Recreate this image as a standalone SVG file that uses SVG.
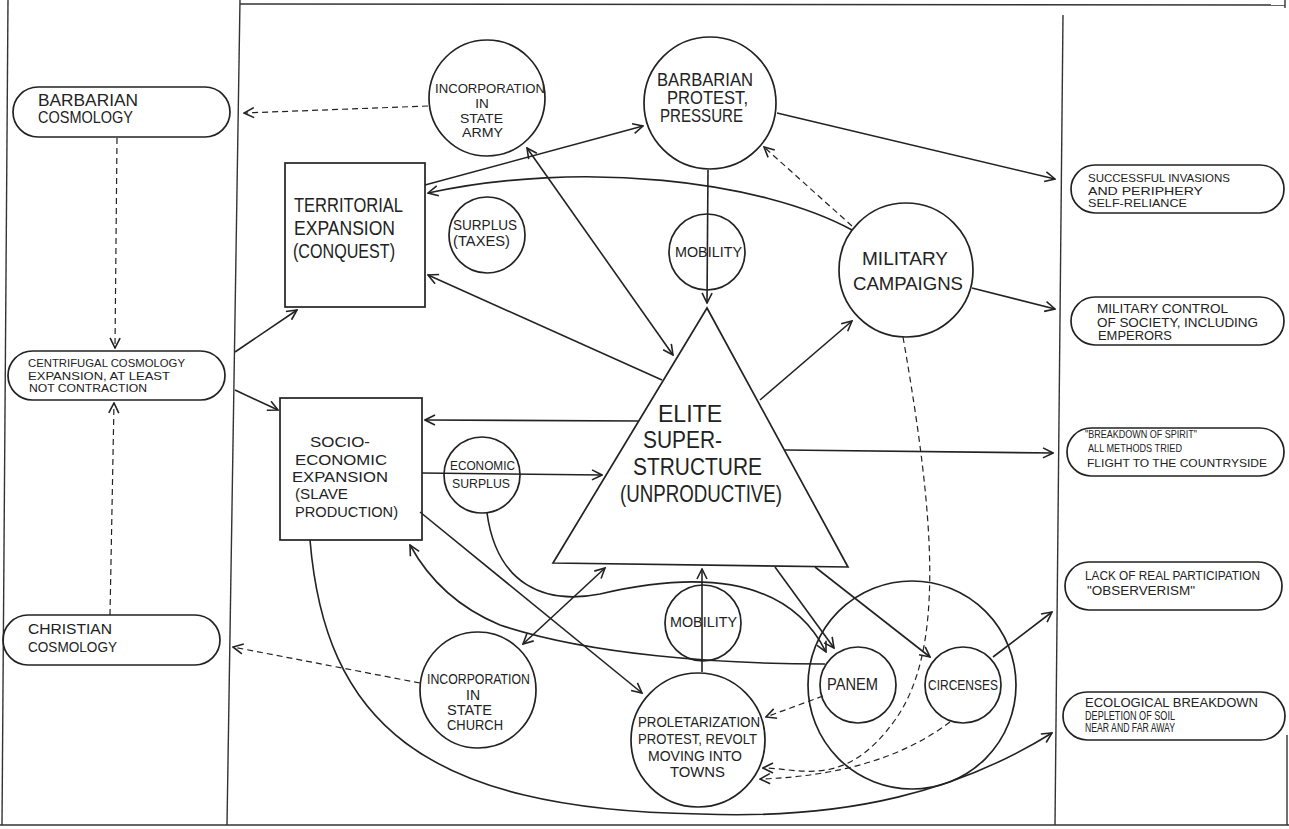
<svg xmlns="http://www.w3.org/2000/svg" width="1289" height="829" viewBox="0 0 1289 829">
<defs>
<marker id="ah" viewBox="0 0 12 12" refX="11" refY="6" markerWidth="12" markerHeight="12" markerUnits="userSpaceOnUse" orient="auto-start-reverse">
<path d="M1,1 L11,6 L1,11" fill="none" stroke="#222" stroke-width="1.6"/>
</marker>
<style>
.ln{fill:none;stroke:#222;stroke-width:1.6}
.ds{fill:none;stroke:#222;stroke-width:1.2;stroke-dasharray:6 4}
.nd{fill:none;stroke:#222;stroke-width:1.7}
.fr{fill:none;stroke:#333;stroke-width:1.4}
text{font-family:"Liberation Sans",Arial,sans-serif;fill:#222}
.a{marker-end:url(#ah)}
.b{marker-start:url(#ah);marker-end:url(#ah)}
</style>
</defs>
<rect x="0" y="0" width="1289" height="829" fill="#fff"/>
<g id="frame">
<line class="fr" x1="8" y1="0" x2="2" y2="825"/>
<line class="fr" x1="240" y1="0" x2="227" y2="825"/>
<line class="fr" x1="240" y1="4" x2="1285" y2="5"/>
<line class="fr" x1="1285" y1="0" x2="1285" y2="8"/>
<line class="fr" x1="1063" y1="15" x2="1055" y2="825"/>
<line class="fr" x1="1287" y1="735" x2="1287" y2="825"/>
<line class="fr" x1="0" y1="825" x2="1289" y2="825"/>
</g>
<g id="connectors">
<path class="ds a" d="M428,106 L244,113"/>
<path class="ds a" d="M117,138 L115,348"/>
<path class="ds a" d="M110,615 L114,403"/>
<path class="ln a" d="M235,352 L297,310"/>
<path class="ln a" d="M235,390 L278,410"/>
<path class="ds a" d="M420,683 L233,647"/>
<path class="ln a" d="M425,185 L643,126"/>
<path class="ln a" d="M852,230 C760,180 580,160 428,193"/>
<path class="ln b" d="M527,148 L673,355"/>
<path class="ln a" d="M662,380 L428,275"/>
<path class="ln a" d="M760,400 L852,321"/>
<path class="ln a" d="M972,288 L1055,309"/>
<path class="ln a" d="M777,113 L1055,179"/>
<path class="ds a" d="M852,226 L764,147"/>
<path class="ds a" d="M903,337 C935,520 945,650 895,720 S800,768 763,768"/>
<path class="ds a" d="M950,722 Q880,775 760,779"/>
<path class="ds a" d="M823,696 L766,717"/>
<path class="ln a" d="M702,672 L702,569"/>
<path class="ln a" d="M775,567 L834,648"/>
<path class="ln a" d="M815,567 L930,657"/>
<path class="ln a" d="M993,657 L1052,612"/>
<path class="ln a" d="M310,540 C325,720 420,810 700,814 C850,820 960,790 1052,733"/>
<path class="ln a" d="M422,473 L602,475"/>
<path class="ln a" d="M638,421 L425,420"/>
<path class="ln a" d="M785,450 L1053,453"/>
<path class="ln a" d="M487,513 C497,585 545,605 600,594 C660,580 780,560 826,652"/>
<path class="ln a" d="M825,664 C720,664 590,655 500,625 Q440,600 410,545"/>
<path class="ln a" d="M420,512 L642,693"/>
<path class="ln b" d="M605,568 L523,644"/>
<path class="ln a" d="M708,170 L707,303"/>
</g>
<g id="barbarian-cosmology">
<rect class="nd" x="13" y="87" width="217" height="50" rx="25"/>
<text x="38" y="106" font-size="17" textLength="100" lengthAdjust="spacingAndGlyphs">BARBARIAN</text>
<text x="38" y="123" font-size="17" textLength="95" lengthAdjust="spacingAndGlyphs">COSMOLOGY</text>
</g>
<g id="centrifugal-cosmology">
<rect class="nd" x="8" y="351" width="217" height="49" rx="24.5"/>
<text x="28" y="367" font-size="11.3" textLength="157" lengthAdjust="spacingAndGlyphs">CENTRIFUGAL COSMOLOGY</text>
<text x="28" y="380" font-size="11.3" textLength="142" lengthAdjust="spacingAndGlyphs">EXPANSION, AT LEAST</text>
<text x="29" y="392" font-size="11.3" textLength="118" lengthAdjust="spacingAndGlyphs">NOT CONTRACTION</text>
</g>
<g id="christian-cosmology">
<rect class="nd" x="3" y="615" width="217" height="50" rx="25"/>
<text x="28" y="634" font-size="15.5" textLength="84" lengthAdjust="spacingAndGlyphs">CHRISTIAN</text>
<text x="28" y="652" font-size="15.5" textLength="89" lengthAdjust="spacingAndGlyphs">COSMOLOGY</text>
</g>
<g id="territorial-expansion">
<rect class="nd" x="285" y="163" width="140" height="144"/>
<text x="294" y="212" font-size="20" textLength="109" lengthAdjust="spacingAndGlyphs">TERRITORIAL</text>
<text x="294" y="235" font-size="20" textLength="101" lengthAdjust="spacingAndGlyphs">EXPANSION</text>
<text x="293" y="258" font-size="20" textLength="102" lengthAdjust="spacingAndGlyphs">(CONQUEST)</text>
</g>
<g id="socio-economic-expansion">
<rect class="nd" x="280" y="398" width="142" height="142"/>
<text x="310" y="447" font-size="15" textLength="60" lengthAdjust="spacingAndGlyphs">SOCIO-</text>
<text x="295" y="465" font-size="15" textLength="92" lengthAdjust="spacingAndGlyphs">ECONOMIC</text>
<text x="292" y="482" font-size="15" textLength="96" lengthAdjust="spacingAndGlyphs">EXPANSION</text>
<text x="295" y="499" font-size="15" textLength="53" lengthAdjust="spacingAndGlyphs">(SLAVE</text>
<text x="295" y="517" font-size="15" textLength="103" lengthAdjust="spacingAndGlyphs">PRODUCTION)</text>
</g>
<g id="incorporation-state-army">
<circle class="nd" cx="487" cy="98" r="58"/>
<text x="435" y="93" font-size="13.5" textLength="110" lengthAdjust="spacingAndGlyphs">INCORPORATION</text>
<text x="482" y="108" font-size="13.5" text-anchor="middle">IN</text>
<text x="460" y="123" font-size="13.5" textLength="43" lengthAdjust="spacingAndGlyphs">STATE</text>
<text x="462" y="137" font-size="13.5" textLength="41" lengthAdjust="spacingAndGlyphs">ARMY</text>
</g>
<g id="surplus-taxes">
<circle class="nd" cx="487" cy="235" r="38"/>
<text x="453" y="230" font-size="15" textLength="64" lengthAdjust="spacingAndGlyphs">SURPLUS</text>
<text x="453" y="246" font-size="15" textLength="57" lengthAdjust="spacingAndGlyphs">(TAXES)</text>
</g>
<g id="barbarian-protest">
<circle class="nd" cx="710" cy="103" r="66"/>
<text x="657" y="86" font-size="18" textLength="96" lengthAdjust="spacingAndGlyphs">BARBARIAN</text>
<text x="667" y="104" font-size="18" textLength="81" lengthAdjust="spacingAndGlyphs">PROTEST,</text>
<text x="660" y="122" font-size="18" textLength="83" lengthAdjust="spacingAndGlyphs">PRESSURE</text>
</g>
<g id="mobility-top">
<circle class="nd" cx="707" cy="252" r="38"/>
<text x="675" y="257" font-size="14" textLength="67" lengthAdjust="spacingAndGlyphs">MOBILITY</text>
</g>
<g id="military-campaigns">
<circle class="nd" cx="906" cy="270" r="67"/>
<text x="862" y="265" font-size="18" textLength="86" lengthAdjust="spacingAndGlyphs">MILITARY</text>
<text x="853" y="290" font-size="18" textLength="110" lengthAdjust="spacingAndGlyphs">CAMPAIGNS</text>
</g>
<g id="elite-superstructure">
<polygon class="nd" points="707,308 848,567 553,563"/>
<text x="658" y="422" font-size="24" textLength="64" lengthAdjust="spacingAndGlyphs">ELITE</text>
<text x="643" y="448" font-size="24" textLength="79" lengthAdjust="spacingAndGlyphs">SUPER-</text>
<text x="633" y="475" font-size="24" textLength="129" lengthAdjust="spacingAndGlyphs">STRUCTURE</text>
<text x="620" y="502" font-size="24" textLength="162" lengthAdjust="spacingAndGlyphs">(UNPRODUCTIVE)</text>
</g>
<g id="economic-surplus">
<circle class="nd" cx="482" cy="475" r="38"/>
<text x="450" y="470" font-size="13.5" textLength="65" lengthAdjust="spacingAndGlyphs">ECONOMIC</text>
<text x="452" y="488" font-size="13.5" textLength="58" lengthAdjust="spacingAndGlyphs">SURPLUS</text>
</g>
<g id="mobility-bottom">
<circle class="nd" cx="703" cy="623" r="38"/>
<text x="670" y="627" font-size="14" textLength="67" lengthAdjust="spacingAndGlyphs">MOBILITY</text>
</g>
<g id="proletarization">
<circle class="nd" cx="698" cy="740" r="67"/>
<text x="638" y="727" font-size="14" textLength="122" lengthAdjust="spacingAndGlyphs">PROLETARIZATION</text>
<text x="638" y="744" font-size="14" textLength="119" lengthAdjust="spacingAndGlyphs">PROTEST, REVOLT</text>
<text x="648" y="761" font-size="14" textLength="94" lengthAdjust="spacingAndGlyphs">MOVING INTO</text>
<text x="670" y="777" font-size="14" textLength="55" lengthAdjust="spacingAndGlyphs">TOWNS</text>
</g>
<g id="panem-circenses">
<circle class="nd" cx="912" cy="685" r="104"/>
</g>
<g id="panem">
<circle class="nd" cx="858" cy="685" r="38"/>
<text x="827" y="690" font-size="16" textLength="51" lengthAdjust="spacingAndGlyphs">PANEM</text>
</g>
<g id="circenses">
<circle class="nd" cx="963" cy="685" r="38"/>
<text x="928" y="690" font-size="15" textLength="70" lengthAdjust="spacingAndGlyphs">CIRCENSES</text>
</g>
<g id="incorporation-state-church">
<circle class="nd" cx="478" cy="690" r="58"/>
<text x="427" y="684" font-size="14" textLength="103" lengthAdjust="spacingAndGlyphs">INCORPORATION</text>
<text x="473" y="700" font-size="14" text-anchor="middle">IN</text>
<text x="447" y="715" font-size="14" textLength="45" lengthAdjust="spacingAndGlyphs">STATE</text>
<text x="447" y="730" font-size="14" textLength="56" lengthAdjust="spacingAndGlyphs">CHURCH</text>
</g>
<g id="successful-invasions">
<rect class="nd" x="1071" y="165" width="213" height="48" rx="24"/>
<text x="1088" y="182" font-size="11.5" textLength="142" lengthAdjust="spacingAndGlyphs">SUCCESSFUL INVASIONS</text>
<text x="1088" y="195" font-size="11.5" textLength="115" lengthAdjust="spacingAndGlyphs">AND PERIPHERY</text>
<text x="1088" y="207" font-size="11.5" textLength="99" lengthAdjust="spacingAndGlyphs">SELF-RELIANCE</text>
</g>
<g id="military-control">
<rect class="nd" x="1071" y="297" width="213" height="48" rx="24"/>
<text x="1097" y="313" font-size="12.5" textLength="131" lengthAdjust="spacingAndGlyphs">MILITARY CONTROL</text>
<text x="1097" y="327" font-size="12.5" textLength="161" lengthAdjust="spacingAndGlyphs">OF SOCIETY, INCLUDING</text>
<text x="1098" y="340" font-size="12.5" textLength="74" lengthAdjust="spacingAndGlyphs">EMPERORS</text>
</g>
<g id="breakdown-of-spirit">
<rect class="nd" x="1067" y="428" width="217" height="48" rx="24"/>
<text x="1085" y="438" font-size="11.5" textLength="112" lengthAdjust="spacingAndGlyphs">"BREAKDOWN OF SPIRIT"</text>
<text x="1088" y="452" font-size="11.5" textLength="94" lengthAdjust="spacingAndGlyphs">ALL METHODS TRIED</text>
<text x="1087" y="467" font-size="11.5" textLength="180" lengthAdjust="spacingAndGlyphs">FLIGHT TO THE COUNTRYSIDE</text>
</g>
<g id="lack-of-participation">
<rect class="nd" x="1065" y="562" width="217" height="48" rx="24"/>
<text x="1085" y="580" font-size="12.5" textLength="175" lengthAdjust="spacingAndGlyphs">LACK OF REAL PARTICIPATION</text>
<text x="1087" y="595" font-size="12.5" textLength="108" lengthAdjust="spacingAndGlyphs">"OBSERVERISM"</text>
</g>
<g id="ecological-breakdown">
<rect class="nd" x="1063" y="692" width="222" height="48" rx="24"/>
<text x="1085" y="707" font-size="12" textLength="173" lengthAdjust="spacingAndGlyphs">ECOLOGICAL  BREAKDOWN</text>
<text x="1085" y="720" font-size="12" textLength="90" lengthAdjust="spacingAndGlyphs">DEPLETION OF SOIL</text>
<text x="1085" y="732" font-size="12" textLength="90" lengthAdjust="spacingAndGlyphs">NEAR AND FAR AWAY</text>
</g>
</svg>
